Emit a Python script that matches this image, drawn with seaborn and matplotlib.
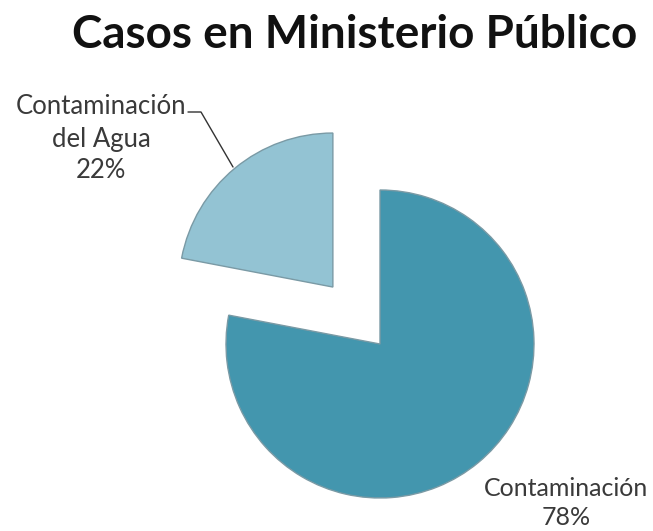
import matplotlib
matplotlib.use("Agg")
import matplotlib.pyplot as plt
import seaborn as sns

categories = ["Contaminación", "Contaminación\ndel Agua"]
shares = [78, 22]
title = "Casos en Ministerio Público"

sns.set_theme(style="white")
plt.rcParams["font.family"] = ["Lato", "DejaVu Sans"]

colors = ["#4396ae", "#93c3d3"]

W, H = 653, 531
radius = 154
# pull the smaller slice out by about half a radius (explode is in data units)
explode = [0.0, 0.48 * radius]

fig = plt.figure(figsize=(W / 100, H / 100), dpi=100)
ax = fig.add_axes([0, 0, 1, 1])

wedges, _ = ax.pie(
    shares,
    colors=colors,
    startangle=90,
    counterclock=False,
    explode=explode,
    center=(380, H - 344),
    radius=radius,
    frame=True,
    wedgeprops=dict(edgecolor="#7a9aa5", linewidth=1.0),
)
ax.set_xlim(0, W)
ax.set_ylim(0, H)
ax.set_aspect("equal")
ax.axis("off")

ax.text(355, H - 35, title, ha="center", va="center",
        fontsize=33, fontweight="bold", color="#111111")

label_color = "#3a3a3a"
ax.text(566, H - 503, f"{categories[0]}\n{shares[0]}%", ha="center", va="center",
        fontsize=18, color=label_color, linespacing=1.35)
ax.text(101, H - 139, f"{categories[1]}\n{shares[1]}%", ha="center", va="center",
        fontsize=18.5, color=label_color, linespacing=1.35)

# leader line for the exploded slice
ax.plot([188, 201, 233], [H - 112, H - 112, H - 167], color="#333333", lw=1.0)

fig.savefig("out.png", dpi=100, facecolor="white")
